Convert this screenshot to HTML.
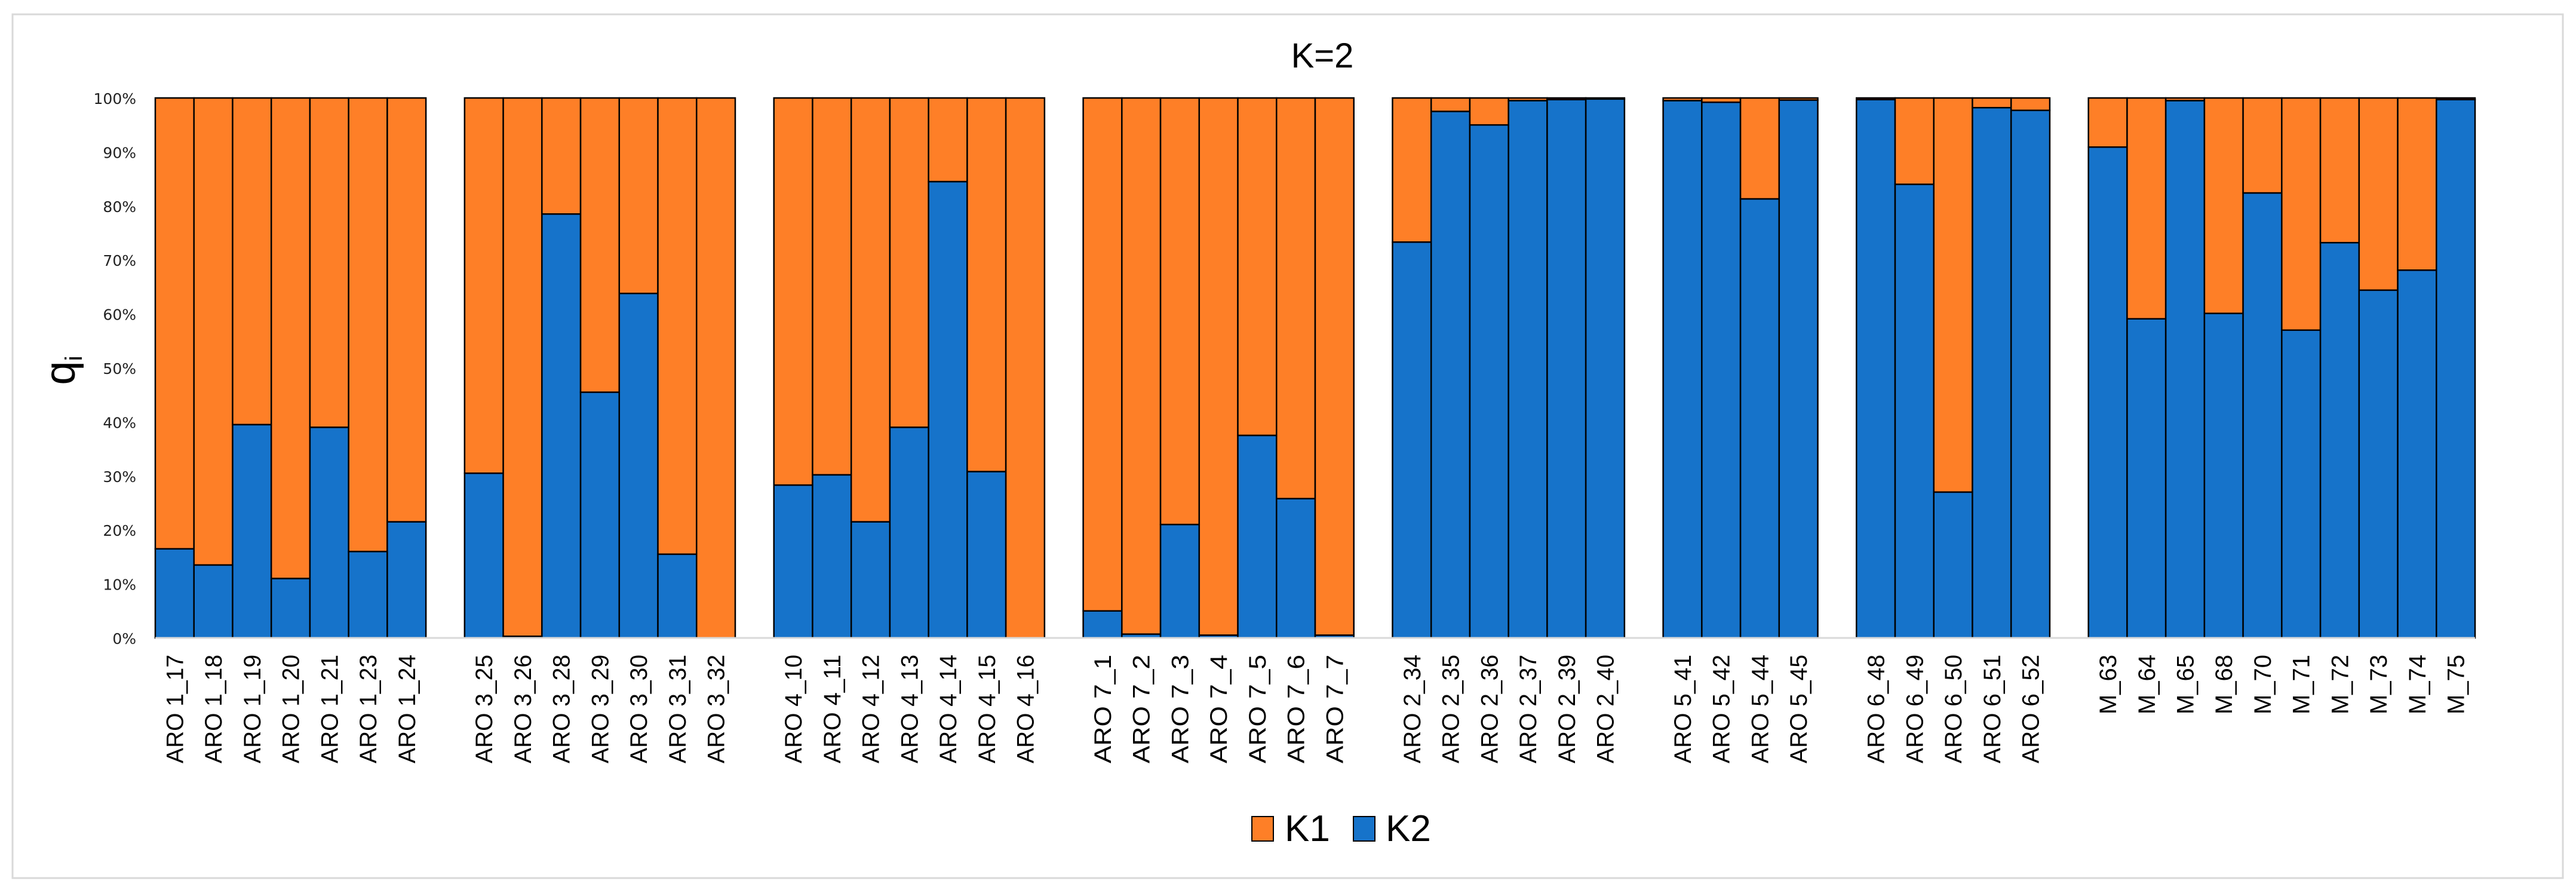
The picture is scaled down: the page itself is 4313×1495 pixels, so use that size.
<!DOCTYPE html>
<html><head><meta charset="utf-8"><style>
html,body{margin:0;padding:0;background:#fff;}
svg{display:block;}
</style></head><body>
<svg id="chart" width="4313" height="1495" xmlns="http://www.w3.org/2000/svg">
<rect x="21" y="24" width="4270" height="1446" fill="#fff" stroke="#d9d9d9" stroke-width="3"/>
<text x="2214" y="113" font-family="Liberation Sans, sans-serif" font-size="58" text-anchor="middle">K=2</text>
<text transform="translate(125,620) rotate(-90)" font-family="Liberation Sans, sans-serif" font-size="72" text-anchor="middle">q<tspan font-size="40" dy="12">i</tspan></text>
<g id="yticks"></g>
<g id="bars"></g>
<g id="xlabels"></g>
<line x1="260" y1="1068" x2="4144" y2="1068" stroke="#d9d9d9" stroke-width="3"/>
<g>
<rect x="2096" y="1367" width="36" height="41" fill="#fe7f27" stroke="#000" stroke-width="2"/>
<text x="2151" y="1408" font-family="Liberation Sans, sans-serif" font-size="62">K1</text>
<rect x="2266" y="1367" width="36" height="41" fill="#1673ca" stroke="#000" stroke-width="2"/>
<text x="2320" y="1408" font-family="Liberation Sans, sans-serif" font-size="62">K2</text>
</g>
</svg>
<script>
const groupLabels = [
 ["ARO 1_17","ARO 1_18","ARO 1_19","ARO 1_20","ARO 1_21","ARO 1_23","ARO 1_24"],
 ["ARO 3_25","ARO 3_26","ARO 3_28","ARO 3_29","ARO 3_30","ARO 3_31","ARO 3_32"],
 ["ARO 4_10","ARO 4_11","ARO 4_12","ARO 4_13","ARO 4_14","ARO 4_15","ARO 4_16"],
 ["ARO 7_1","ARO 7_2","ARO 7_3","ARO 7_4","ARO 7_5","ARO 7_6","ARO 7_7"],
 ["ARO 2_34","ARO 2_35","ARO 2_36","ARO 2_37","ARO 2_39","ARO 2_40"],
 ["ARO 5_41","ARO 5_42","ARO 5_44","ARO 5_45"],
 ["ARO 6_48","ARO 6_49","ARO 6_50","ARO 6_51","ARO 6_52"],
 ["M_63","M_64","M_65","M_68","M_70","M_71","M_72","M_73","M_74","M_75"]
];
const k2Values = [
 [16.5,13.5,39.5,11,39,16,21.5],
 [30.5,0.3,78.5,45.5,63.8,15.5,0],
 [28.3,30.2,21.5,39,84.5,30.8,0],
 [5,0.7,21,0.5,37.5,25.8,0.5],
 [73.3,97.5,95,99.5,99.7,99.8],
 [99.5,99.2,81.3,99.6],
 [99.7,84,27,98.2,97.7],
 [90.9,59.1,99.5,60.1,82.4,57,73.2,64.4,68.1,99.7]
];
const yTicks = ["0%","10%","20%","30%","40%","50%","60%","70%","80%","90%","100%"];

const NS="http://www.w3.org/2000/svg";
const X0=260, X1=4144, Y0=1068, Y1=164;
let nSlots=0; groupLabels.forEach((g,i)=>{nSlots+=g.length+(i>0?1:0);});
const slotW=(X1-X0)/nSlots;
const yScale=v=>Y0-(v/100)*(Y0-Y1);
const xScale=s=>X0+s*slotW;

const yt=document.getElementById('yticks');
yTicks.forEach((t,i)=>{
 const e=document.createElementNS(NS,'text');
 
 
 e.setAttribute('x',228);e.setAttribute('y',yScale(i*10)+10);
 e.setAttribute('text-anchor','end');
 e.setAttribute('font-family','DejaVu Sans, sans-serif');e.setAttribute('font-size','25');
 e.setAttribute('fill','#222');
 e.textContent=t;yt.appendChild(e);
});

const bg=document.getElementById('bars'), xl=document.getElementById('xlabels');
let slot=0;
groupLabels.forEach((g,gi)=>{
 if(gi>0) slot++;
 g.forEach((lab,i)=>{
  const v=k2Values[gi][i];
  const x=xScale(slot);
  const o=document.createElementNS(NS,'rect');
  
  
  o.setAttribute('x',x);o.setAttribute('width',slotW);
  o.setAttribute('y',Y1);o.setAttribute('height',yScale(v)-Y1);
  o.setAttribute('fill','#fe7f27');o.setAttribute('stroke','#000');o.setAttribute('stroke-width','2.5');
  bg.appendChild(o);
  const b=document.createElementNS(NS,'rect');
  
  
  b.setAttribute('x',x);o.setAttribute('width',slotW);b.setAttribute('width',slotW);
  b.setAttribute('y',yScale(v));b.setAttribute('height',Y0-yScale(v));
  b.setAttribute('fill','#1673ca');b.setAttribute('stroke','#000');b.setAttribute('stroke-width','2.5');
  bg.appendChild(b);
  const t=document.createElementNS(NS,'text');
  
  
  const cx=x+slotW/2+14;
  t.setAttribute('transform','translate('+cx+',1096) rotate(-90)');
  t.setAttribute('text-anchor','end');
  t.setAttribute('font-family','Liberation Sans Narrow, Liberation Sans, sans-serif');
  t.setAttribute('font-size','40');
  t.setAttribute('textLength',lab.startsWith('M_')?100:(lab.length>8?182:182));
  t.setAttribute('lengthAdjust','spacingAndGlyphs');
  t.textContent=lab;xl.appendChild(t);
  slot++;
 });
});
</script>
</body></html>
